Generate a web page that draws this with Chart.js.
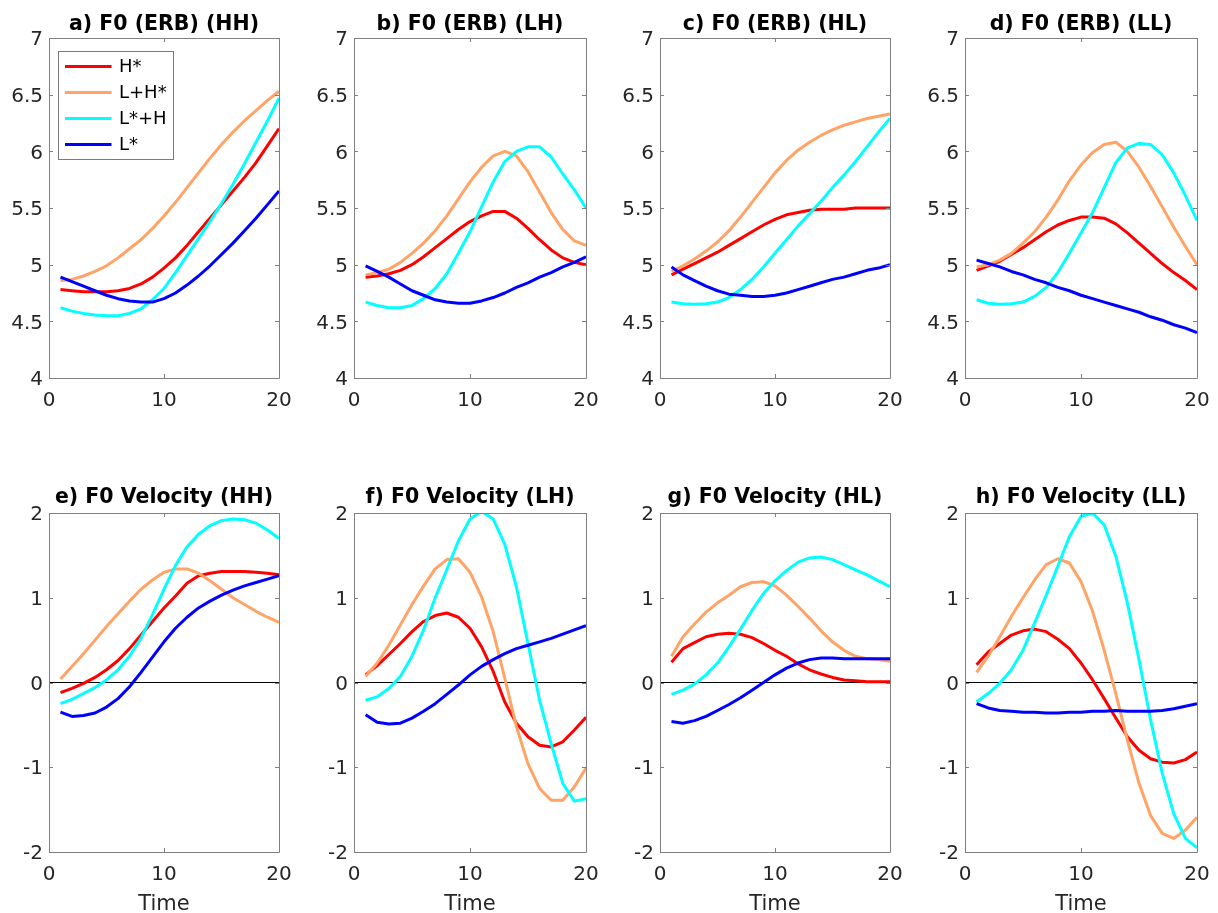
<!DOCTYPE html>
<html><head><meta charset="utf-8">
<script src="https://cdn.jsdelivr.net/npm/chart.js@4.4.1/dist/chart.umd.min.js"></script>
<style>
html,body{margin:0;padding:0;background:#fff;width:1218px;height:913px;overflow:hidden;position:relative;}
canvas{position:absolute;}
</style></head><body>
<script>
// ---------- data ----------
const times = [1,2,3,4,5,6,7,8,9,10,11,12,13,14,15,16,17,18,19,20];
const seriesLabels = ['H*','L+H*','L*+H','L*'];
const seriesColors = ['#ff0000','#ffa366','#00ffff','#0000ff'];
const panelTitles = ['a) F0 (ERB) (HH)','b) F0 (ERB) (LH)','c) F0 (ERB) (HL)','d) F0 (ERB) (LL)',
                     'e) F0 Velocity (HH)','f) F0 Velocity (LH)','g) F0 Velocity (HL)','h) F0 Velocity (LL)'];
const xTicks = [0,10,20];
const yTicksF0 = [4,4.5,5,5.5,6,6.5,7];
const yTicksVel = [-2,-1,0,1,2];
const xAxisLabel = 'Time';

// a) F0 (ERB) (HH)
const erbHH_H   = [4.78,4.77,4.76,4.76,4.76,4.77,4.79,4.83,4.89,4.97,5.06,5.17,5.29,5.41,5.53,5.65,5.77,5.90,6.05,6.20];
const erbHH_LH  = [4.86,4.87,4.90,4.94,4.99,5.06,5.14,5.22,5.32,5.43,5.55,5.68,5.81,5.94,6.06,6.17,6.27,6.36,6.45,6.53];
const erbHH_LsH = [4.62,4.59,4.57,4.555,4.55,4.55,4.57,4.61,4.69,4.79,4.93,5.08,5.23,5.38,5.54,5.71,5.89,6.08,6.27,6.47];
const erbHH_L   = [4.89,4.85,4.81,4.77,4.73,4.70,4.68,4.67,4.67,4.70,4.75,4.82,4.90,4.99,5.09,5.19,5.30,5.41,5.53,5.65];
// b) F0 (ERB) (LH)
const erbLH_H   = [4.89,4.90,4.92,4.95,5.00,5.07,5.15,5.23,5.31,5.38,5.43,5.47,5.47,5.41,5.32,5.22,5.13,5.06,5.02,5.00];
const erbLH_LH  = [4.91,4.93,4.96,5.02,5.10,5.19,5.30,5.43,5.58,5.73,5.86,5.96,6.00,5.96,5.82,5.64,5.46,5.31,5.21,5.17];
const erbLH_LsH = [4.67,4.64,4.62,4.62,4.64,4.70,4.79,4.92,5.10,5.29,5.51,5.73,5.91,6.00,6.04,6.04,5.95,5.80,5.66,5.50];
const erbLH_L   = [4.99,4.94,4.89,4.83,4.77,4.73,4.69,4.67,4.66,4.66,4.68,4.71,4.75,4.80,4.84,4.89,4.93,4.98,5.02,5.07];
// c) F0 (ERB) (HL)
const erbHL_H   = [4.91,4.96,5.01,5.06,5.11,5.17,5.23,5.29,5.35,5.40,5.44,5.46,5.48,5.49,5.49,5.49,5.50,5.50,5.50,5.50];
const erbHL_LH  = [4.94,4.99,5.05,5.12,5.20,5.30,5.42,5.55,5.68,5.81,5.92,6.01,6.08,6.14,6.19,6.23,6.26,6.29,6.31,6.33];
const erbHL_LsH = [4.67,4.655,4.65,4.655,4.67,4.71,4.78,4.87,4.98,5.10,5.22,5.34,5.45,5.56,5.68,5.79,5.91,6.04,6.17,6.29];
const erbHL_L   = [4.98,4.91,4.86,4.81,4.77,4.74,4.73,4.72,4.72,4.73,4.75,4.78,4.81,4.84,4.87,4.89,4.92,4.95,4.97,5.00];
// d) F0 (ERB) (LL)
const erbLL_H   = [4.95,4.99,5.03,5.09,5.15,5.22,5.29,5.35,5.39,5.42,5.42,5.41,5.36,5.28,5.19,5.10,5.01,4.93,4.86,4.78];
const erbLL_LH  = [4.98,5.00,5.04,5.10,5.19,5.29,5.42,5.57,5.74,5.88,5.99,6.06,6.08,6.00,5.86,5.69,5.51,5.33,5.16,5.00];
const erbLL_LsH = [4.69,4.66,4.65,4.655,4.67,4.72,4.80,4.93,5.10,5.28,5.46,5.68,5.90,6.03,6.07,6.06,5.97,5.81,5.61,5.39];
const erbLL_L   = [5.04,5.01,4.98,4.94,4.91,4.87,4.84,4.80,4.77,4.73,4.70,4.67,4.64,4.61,4.58,4.54,4.51,4.47,4.44,4.40];
// e) F0 Velocity (HH)
const velHH_H   = [-0.12,-0.07,-0.01,0.06,0.15,0.26,0.40,0.56,0.72,0.88,1.02,1.17,1.26,1.29,1.31,1.31,1.31,1.30,1.29,1.27];
const velHH_LH  = [0.04,0.19,0.34,0.50,0.66,0.81,0.96,1.10,1.21,1.30,1.34,1.34,1.29,1.20,1.10,1.00,0.92,0.84,0.77,0.71];
const velHH_LsH = [-0.25,-0.20,-0.13,-0.06,0.03,0.15,0.31,0.52,0.80,1.10,1.38,1.60,1.75,1.85,1.91,1.93,1.92,1.88,1.80,1.70];
const velHH_L   = [-0.35,-0.40,-0.39,-0.36,-0.29,-0.19,-0.05,0.12,0.30,0.48,0.64,0.77,0.88,0.96,1.03,1.09,1.14,1.18,1.22,1.26];
// f) F0 Velocity (LH)
const velLH_H   = [0.09,0.20,0.33,0.46,0.60,0.72,0.79,0.82,0.77,0.64,0.42,0.13,-0.23,-0.48,-0.64,-0.74,-0.76,-0.70,-0.56,-0.41];
const velLH_LH  = [0.07,0.23,0.44,0.68,0.92,1.14,1.34,1.45,1.46,1.30,1.01,0.60,0.05,-0.52,-0.96,-1.25,-1.39,-1.39,-1.23,-1.01];
const velLH_LsH = [-0.21,-0.17,-0.07,0.07,0.31,0.62,1.00,1.33,1.67,1.93,2.02,1.93,1.63,1.13,0.46,-0.21,-0.72,-1.19,-1.40,-1.37];
const velLH_L   = [-0.38,-0.47,-0.49,-0.48,-0.42,-0.34,-0.25,-0.14,-0.03,0.09,0.19,0.27,0.34,0.40,0.44,0.48,0.52,0.57,0.62,0.67];
// g) F0 Velocity (HL)
const velHL_H   = [0.24,0.40,0.47,0.54,0.57,0.58,0.57,0.53,0.46,0.38,0.31,0.22,0.15,0.10,0.06,0.03,0.02,0.01,0.01,0.01];
const velHL_LH  = [0.31,0.54,0.69,0.83,0.94,1.03,1.13,1.18,1.19,1.14,1.03,0.90,0.76,0.61,0.48,0.38,0.31,0.28,0.27,0.25];
const velHL_LsH = [-0.14,-0.09,-0.02,0.09,0.23,0.42,0.63,0.85,1.05,1.20,1.32,1.42,1.47,1.48,1.45,1.39,1.33,1.27,1.20,1.13];
const velHL_L   = [-0.46,-0.48,-0.45,-0.40,-0.33,-0.26,-0.18,-0.09,0.00,0.09,0.17,0.23,0.27,0.29,0.29,0.28,0.28,0.28,0.28,0.28];
// h) F0 Velocity (LL)
const velLL_H   = [0.21,0.36,0.46,0.56,0.61,0.63,0.60,0.51,0.40,0.23,0.03,-0.19,-0.42,-0.64,-0.80,-0.90,-0.94,-0.95,-0.91,-0.82];
const velLL_LH  = [0.12,0.31,0.54,0.78,1.00,1.21,1.39,1.46,1.41,1.19,0.84,0.38,-0.13,-0.68,-1.19,-1.57,-1.78,-1.84,-1.74,-1.59];
const velLL_LsH = [-0.23,-0.13,-0.01,0.15,0.38,0.70,1.03,1.37,1.72,1.96,2.00,1.86,1.49,0.94,0.27,-0.44,-1.07,-1.55,-1.84,-1.95];
const velLL_L   = [-0.25,-0.30,-0.33,-0.34,-0.35,-0.35,-0.36,-0.36,-0.35,-0.35,-0.34,-0.34,-0.33,-0.34,-0.34,-0.34,-0.33,-0.31,-0.28,-0.25];

const panelSeries = [
  [erbHH_H, erbHH_LH, erbHH_LsH, erbHH_L],
  [erbLH_H, erbLH_LH, erbLH_LsH, erbLH_L],
  [erbHL_H, erbHL_LH, erbHL_LsH, erbHL_L],
  [erbLL_H, erbLL_LH, erbLL_LsH, erbLL_L],
  [velHH_H, velHH_LH, velHH_LsH, velHH_L],
  [velLH_H, velLH_LH, velLH_LsH, velLH_L],
  [velHL_H, velHL_LH, velHL_LsH, velHL_L],
  [velLL_H, velLL_LH, velLL_LsH, velLL_L]
];

// ---------- layout ----------
const FONT = "'DejaVu Sans', 'Liberation Sans', sans-serif";
const colL = [49,354,660,965], colR = [279,586,890,1197];
const rowT = [38,513], rowB = [378,852];
const padTop = [38,45];
const padLeft = 60, padRight = 25;
const xAxisH = [42,65];
const titleBaseline = [29.5,503];

const framePlugin = {
  id: 'frame',
  afterDatasetsDraw(chart, args, o) {
    const ctx = chart.ctx, a = chart.chartArea;
    const xs = chart.scales.x, ys = chart.scales.y;
    ctx.save();
    ctx.strokeStyle = '#808080';
    ctx.lineWidth = 1;
    ctx.beginPath();
    ctx.rect(a.left + 0.5, a.top + 0.5, a.right - a.left, a.bottom - a.top);
    const tl = 4;
    ys.ticks.forEach(t => {
      const y = Math.round(ys.getPixelForValue(t.value)) + 0.5;
      ctx.moveTo(a.left, y); ctx.lineTo(a.left + tl, y);
      ctx.moveTo(a.right, y); ctx.lineTo(a.right - tl, y);
    });
    xs.ticks.forEach(t => {
      const x = Math.round(xs.getPixelForValue(t.value)) + 0.5;
      ctx.moveTo(x, a.bottom); ctx.lineTo(x, a.bottom - tl);
      ctx.moveTo(x, a.top); ctx.lineTo(x, a.top + tl);
    });
    ctx.stroke();
    ctx.restore();
  },
  afterDraw(chart, args, o) {
    const ctx = chart.ctx, a = chart.chartArea;
    ctx.save();
    ctx.fillStyle = '#000';
    ctx.font = "bold 20.5px " + FONT;
    ctx.textAlign = 'center';
    ctx.textBaseline = 'alphabetic';
    ctx.fillText(o.title, (a.left + a.right) / 2, o.titleY);
    if (o.legend) {
      const bx = a.left + 9.5, by = a.top + 13.5, bw = 115, bh = 108;
      ctx.fillStyle = '#fff';
      ctx.fillRect(bx, by, bw, bh);
      ctx.strokeStyle = '#7a7a7a';
      ctx.lineWidth = 1;
      ctx.strokeRect(bx, by, bw, bh);
      const sets = chart.data.datasets.filter(d => d.label);
      sets.forEach((d, i) => {
        const y = a.top + 28.5 + i * 26;
        ctx.strokeStyle = d.borderColor;
        ctx.lineWidth = 3;
        ctx.beginPath();
        ctx.moveTo(a.left + 16, y); ctx.lineTo(a.left + 62.5, y);
        ctx.stroke();
        ctx.fillStyle = '#000';
        ctx.font = "18px " + FONT;
        ctx.textAlign = 'left';
        ctx.textBaseline = 'middle';
        ctx.fillText(d.label, a.left + 70, y + 1);
      });
    }
    ctx.restore();
  }
};

for (let p = 0; p < 8; p++) {
  const row = p < 4 ? 0 : 1, col = p % 4;
  const L = colL[col], R = colR[col], T = rowT[row], B = rowB[row];
  const cv = document.createElement('canvas');
  const w = (R - L) + padLeft + padRight;
  const h = padTop[row] + (B - T) + xAxisH[row];
  cv.width = w; cv.height = h;
  cv.style.left = (L - padLeft) + 'px';
  cv.style.top = (T - padTop[row]) + 'px';
  cv.style.width = w + 'px'; cv.style.height = h + 'px';
  document.body.appendChild(cv);

  const datasets = panelSeries[p].map((arr, i) => ({
    label: seriesLabels[i],
    data: times.map((t, k) => ({x: t, y: arr[k]})),
    borderColor: seriesColors[i],
    backgroundColor: seriesColors[i],
    borderWidth: 3,
    pointRadius: 0,
    tension: 0,
    fill: false,
    borderJoinStyle: 'round',
    order: 4 - i
  }));
  if (row === 1) {
    datasets.push({
      label: '',
      data: [{x: xTicks[0], y: 0}, {x: xTicks[xTicks.length - 1], y: 0}],
      borderColor: '#000', borderWidth: 1, pointRadius: 0, tension: 0, fill: false, order: 10
    });
  }
  const yTicks = row === 0 ? yTicksF0 : yTicksVel;
  new Chart(cv, {
    type: 'line',
    data: {datasets},
    plugins: [framePlugin],
    options: {
      responsive: false, animation: false, devicePixelRatio: 1,
      layout: {padding: {top: padTop[row], right: padRight, left: 0, bottom: 0}},
      events: [],
      plugins: {
        legend: {display: false}, tooltip: {enabled: false}, title: {display: false},
        frame: {title: panelTitles[p], titleY: titleBaseline[row] - (T - padTop[row]), legend: p === 0}
      },
      scales: {
        x: {
          type: 'linear', min: xTicks[0], max: xTicks[xTicks.length - 1],
          afterBuildTicks: s => { s.ticks = xTicks.map(v => ({value: v})); },
          afterFit: s => { s.height = xAxisH[row]; },
          grid: {display: false, drawTicks: false, tickLength: 0},
          border: {display: false},
          ticks: {padding: 11, color: '#262626', font: {family: FONT, size: 20}, maxRotation: 0, autoSkip: false,
                  callback: v => String(v)},
          title: {display: row === 1, text: xAxisLabel, color: '#262626', font: {family: FONT, size: 21}, padding: {top: 0, bottom: 0}}
        },
        y: {
          type: 'linear', min: yTicks[0], max: yTicks[yTicks.length - 1],
          afterBuildTicks: s => { s.ticks = yTicks.map(v => ({value: v})); },
          afterFit: s => { s.width = padLeft; },
          grid: {display: false, drawTicks: false, tickLength: 0},
          border: {display: false},
          ticks: {padding: 6, labelOffset: 2, color: '#262626', font: {family: FONT, size: 20}, autoSkip: false,
                  callback: v => String(v)}
        }
      }
    }
  });
}
</script>
</body></html>
